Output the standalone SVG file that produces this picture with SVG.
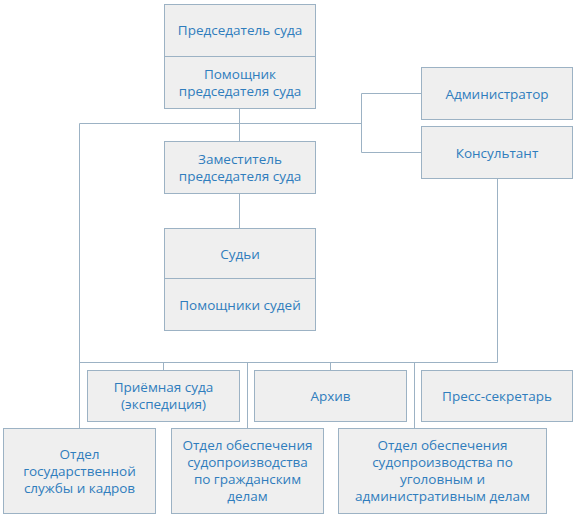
<svg xmlns="http://www.w3.org/2000/svg" width="581" height="517" viewBox="0 0 581 517">
<style>
.box{fill:#efefef;stroke:#9cb2c4;stroke-width:1}
.ln{fill:none;stroke:#9cb2c4;stroke-width:1}
text{font-family:"Open Sans","Liberation Sans",sans-serif;font-size:13.5px;fill:#2f7dbd;text-anchor:middle}
</style>
<rect width="581" height="517" fill="#ffffff"/>
<g id="connectors">
<path class="ln" d="M239.5 108.5V141.5M239.5 193.5V228.5M79.5 123.5H361.5M361.5 93.5V152.5M361.5 93.5H421.5M361.5 152.5H421.5M79.5 123.5V428.5M79.5 362.5H497.5M497.5 178.5V362.5M163.5 362.5V370.5M330.5 362.5V370.5M247.5 362.5V428.5M414.5 362.5V428.5"/>
</g>
<g id="chairman">
<rect class="box" x="164.5" y="4.5" width="151" height="104"/>
<line class="ln" x1="164.5" y1="56.5" x2="315.5" y2="56.5"/>
<text x="240" y="35">Председатель суда</text>
<text x="240" y="78.5">Помощник</text>
<text x="240" y="95.5">председателя суда</text>
</g>
<g id="deputy">
<rect class="box" x="164.5" y="141.5" width="151" height="52"/>
<text x="240" y="163.5">Заместитель</text>
<text x="240" y="180.5">председателя суда</text>
</g>
<g id="judges">
<rect class="box" x="164.5" y="228.5" width="151" height="102"/>
<line class="ln" x1="164.5" y1="278.5" x2="315.5" y2="278.5"/>
<text x="240" y="258.5">Судьи</text>
<text x="240" y="309.5">Помощники судей</text>
</g>
<g id="admin">
<rect class="box" x="421.5" y="67.5" width="151" height="52"/>
<text x="497" y="98.5">Администратор</text>
</g>
<g id="consultant">
<rect class="box" x="421.5" y="126.5" width="151" height="52"/>
<text x="497" y="157.5">Консультант</text>
</g>
<g id="reception">
<rect class="box" x="87.5" y="370.5" width="152" height="51"/>
<text x="163.5" y="392">Приёмная суда</text>
<text x="163.5" y="409">(экспедиция)</text>
</g>
<g id="archive">
<rect class="box" x="254.5" y="370.5" width="152" height="51"/>
<text x="330.5" y="401">Архив</text>
</g>
<g id="press">
<rect class="box" x="421.5" y="370.5" width="151" height="51"/>
<text x="497" y="401">Пресс-секретарь</text>
</g>
<g id="hr">
<rect class="box" x="3.5" y="428.5" width="152" height="85"/>
<text x="79.5" y="458.5">Отдел</text>
<text x="79.5" y="475.5">государственной</text>
<text x="79.5" y="492.5">службы и кадров</text>
</g>
<g id="civil">
<rect class="box" x="171.5" y="428.5" width="152" height="85"/>
<text x="247.5" y="450">Отдел обеспечения</text>
<text x="247.5" y="467">судопроизводства</text>
<text x="247.5" y="484">по гражданским</text>
<text x="247.5" y="501">делам</text>
</g>
<g id="criminal">
<rect class="box" x="338.5" y="428.5" width="208" height="85"/>
<text x="442.5" y="450">Отдел обеспечения</text>
<text x="442.5" y="467">судопроизводства по</text>
<text x="442.5" y="484">уголовным и</text>
<text x="442.5" y="501">административным делам</text>
</g>
</svg>
